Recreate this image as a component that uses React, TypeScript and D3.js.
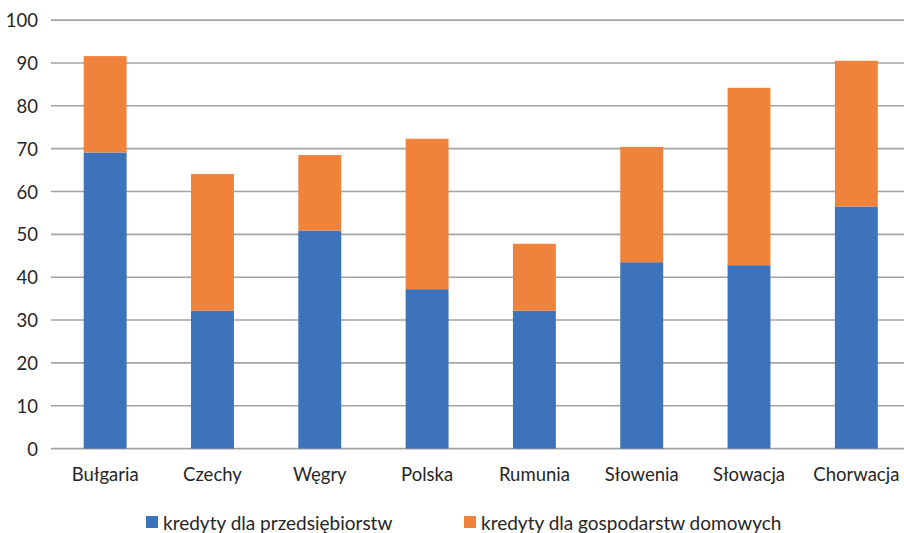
import React from "react";
import * as d3 from "d3";

const categories = ["Bułgaria", "Czechy", "Węgry", "Polska", "Rumunia", "Słowenia", "Słowacja", "Chorwacja"];
const enterpriseLoans = [69.1, 32.2, 50.9, 37.2, 32.2, 43.5, 42.8, 56.5];
const householdLoans = [22.5, 31.9, 17.6, 35.1, 15.6, 26.9, 41.4, 34.0];
const yTicks = [0, 10, 20, 30, 40, 50, 60, 70, 80, 90, 100];
const seriesNames = ["kredyty dla przedsiębiorstw", "kredyty dla gospodarstw domowych"];
const seriesColors = ["#3d73bb", "#f0833c"];

const W = 904;
const H = 533;
const FONT = "Lato, 'Open Sans', sans-serif";

export default function App() {
  const x = d3
    .scaleBand<string>()
    .domain(categories)
    .range([51.5, 910])
    .paddingInner(0.6)
    .paddingOuter(0.3);
  const y = d3.scaleLinear().domain([0, 100]).range([448.6, 20.1]);

  const rows = categories.map((c, i) => ({
    cat: c,
    s0: enterpriseLoans[i],
    s1: householdLoans[i],
  }));
  const stacked = d3.stack<any>().keys(["s0", "s1"])(rows);

  return (
    <svg
      width={W}
      height={H}
      style={{ position: "absolute", left: 0, top: 0, background: "#fff" }}
      fontFamily={FONT}
    >
      {/* horizontal gridlines */}
      {yTicks.map((t) => (
        <line
          key={t}
          x1={51}
          x2={W}
          y1={y(t)}
          y2={y(t)}
          stroke="#a3a3a3"
          strokeWidth={1.6}
        />
      ))}
      {/* y-axis labels */}
      {yTicks.map((t) => (
        <text
          key={"l" + t}
          x={38}
          y={y(t)}
          textAnchor="end"
          dominantBaseline="central"
          fontSize={18.5}
          fill="#262626"
        >
          {t}
        </text>
      ))}
      {/* stacked bars */}
      {stacked.map((layer, li) => (
        <g key={li} fill={seriesColors[li]}>
          {layer.map((d, i) => (
            <rect
              key={i}
              x={x(categories[i])}
              width={x.bandwidth()}
              y={y(d[1])}
              height={y(d[0]) - y(d[1])}
            />
          ))}
        </g>
      ))}
      {/* category labels */}
      {categories.map((c) => (
        <text
          key={c}
          x={(x(c) as number) + x.bandwidth() / 2}
          y={474}
          textAnchor="middle"
          dominantBaseline="central"
          fontSize={18.5}
          fill="#262626"
        >
          {c}
        </text>
      ))}
      {/* legend */}
      {seriesNames.map((n, i) => {
        const lx = i === 0 ? 146 : 464;
        return (
          <g key={n}>
            <rect x={lx} y={516} width={12} height={12} fill={seriesColors[i]} />
            <text
              x={lx + 17}
              y={522}
              dominantBaseline="central"
              fontSize={19}
              fill="#262626"
            >
              {n}
            </text>
          </g>
        );
      })}
    </svg>
  );
}
